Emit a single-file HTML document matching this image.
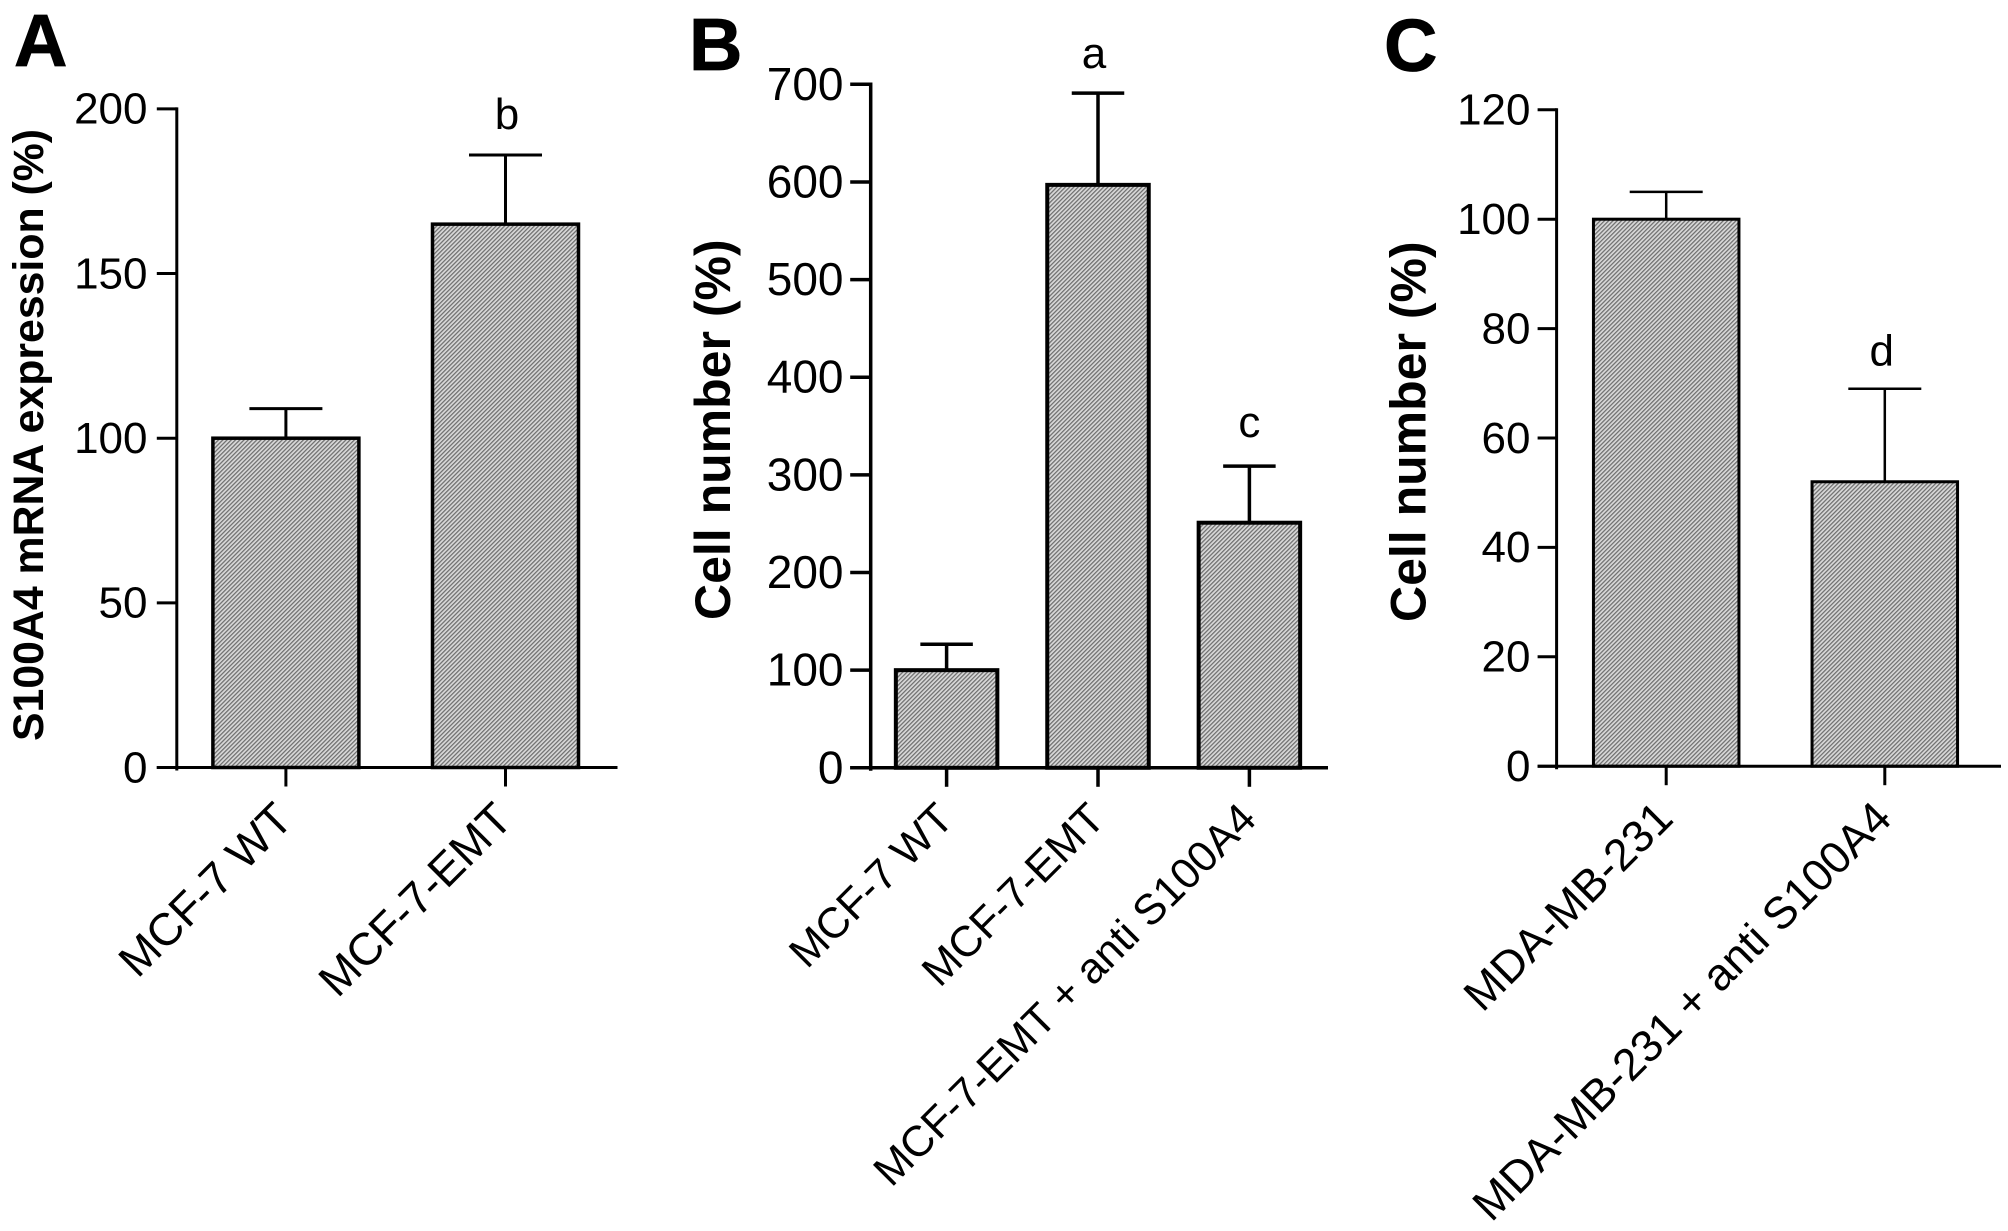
<!DOCTYPE html>
<html lang="en">
<head>
<meta charset="utf-8">
<title>S100A4 expression and cell number bar charts</title>
<style>
  html, body { margin: 0; padding: 0; background: #fff; }
  #figure { display: block; width: 2008px; height: 1231px; font-family: "Liberation Sans", Arial, sans-serif; }
  text { fill: #000; }
  .panel-letter { font-size: 74px; font-weight: bold; stroke: #000; stroke-width: 0.8px; }
  .y-title { font-weight: bold; }
</style>
</head>
<body>
<svg id="figure" xmlns="http://www.w3.org/2000/svg" width="2008" height="1231" viewBox="0 0 2008 1231">
  <defs>
    <pattern id="hatch" width="3" height="3" patternUnits="userSpaceOnUse" patternTransform="rotate(-45)">
      <rect width="3" height="3" fill="#d9d9d9"></rect>
      <rect width="3" height="1.25" fill="#6e6e6e"></rect>
    </pattern>
  </defs>
  <rect width="2008" height="1231" fill="#fff"></rect>

  <text class="panel-letter" x="14" y="66">A</text>
  <text class="panel-letter" x="689" y="70">B</text>
  <text class="panel-letter" x="1384" y="71">C</text>

  <text class="y-title" font-size="42.8" transform="translate(43 741) rotate(-90)">S100A4 mRNA expression (%)</text>
  <text class="y-title" font-size="50" transform="translate(730 620) rotate(-90)">Cell number (%)</text>
  <text class="y-title" font-size="50" transform="translate(1425.5 622) rotate(-90)">Cell number (%)</text>

  <g id="panel-a"></g>
  <g id="panel-b"></g>
  <g id="panel-c"></g>
</svg>

<script>
// Panel A data
var categoriesA = ["MCF-7 WT", "MCF-7-EMT"];
var valuesA = [100, 165];
var errorsA = [9, 21];
var notesA = ["", "b"];
var ticksA = [0, 50, 100, 150, 200];

// Panel B data
var categoriesB = ["MCF-7 WT", "MCF-7-EMT", "MCF-7-EMT + anti S100A4"];
var valuesB = [100, 597, 251];
var errorsB = [26.5, 94, 58];
var notesB = ["", "a", "c"];
var ticksB = [0, 100, 200, 300, 400, 500, 600, 700];

// Panel C data
var categoriesC = ["MDA-MB-231", "MDA-MB-231 + anti S100A4"];
var valuesC = [100, 52];
var errorsC = [5, 17];
var notesC = ["", "d"];
var ticksC = [0, 20, 40, 60, 80, 100, 120];

var SVG_NS = "http://www.w3.org/2000/svg";

function make(parent, tag, attrs) {
  var el = document.createElementNS(SVG_NS, tag);
  for (var k in attrs) { el.setAttribute(k, attrs[k]); }
  parent.appendChild(el);
  return el;
}

function drawPanel(cfg) {
  var root = document.getElementById(cfg.id);
  var yMax = cfg.ticks[cfg.ticks.length - 1];

  function yScale(v) { return cfg.y0 - (v / yMax) * (cfg.y0 - cfg.yTop); }
  function xScale(i) { return cfg.firstCenter + i * cfg.step; }

  // Bars first so axes overdraw their feet
  cfg.values.forEach(function (v, i) {
    var cx = xScale(i);
    var top = yScale(v);
    var errTop = yScale(v + cfg.errors[i]);

    var stem = make(root, "line", { x1: cx, x2: cx, y1: top, y2: errTop, stroke: "#000", "stroke-width": cfg.errWidth });
    
    

    var cap = make(root, "line", { x1: cx - cfg.capWidth / 2, x2: cx + cfg.capWidth / 2, y1: errTop, y2: errTop, stroke: "#000", "stroke-width": cfg.errWidth });
    
    

    var bar = make(root, "rect", { x: cx - cfg.barWidth / 2, y: top, width: cfg.barWidth, height: cfg.y0 - top, fill: "url(#hatch)", stroke: "#000", "stroke-width": cfg.barStroke });
    
    

    if (cfg.notes[i]) {
      var note = make(root, "text", { x: cx + cfg.noteDx[i], y: errTop - cfg.noteGap[i], "font-size": 44, "text-anchor": "middle" });
      note.textContent = cfg.notes[i];
      
      
    }

    var tick = make(root, "line", { x1: cx, x2: cx, y1: cfg.y0, y2: cfg.y0 + 19, stroke: "#000", "stroke-width": cfg.axisWidth });
    
    

    var lx = cx + cfg.labelDx;
    var ly = cfg.y0 + cfg.labelDy;
    var label = make(root, "text", { x: 0, y: 0, "font-size": cfg.labelFont, "text-anchor": "end", transform: "translate(" + lx + " " + ly + ") rotate(-45)" });
    label.textContent = cfg.categories[i];
    
    
  });

  // Y axis
  var yAxis = make(root, "line", { x1: cfg.axisX, x2: cfg.axisX, y1: yScale(yMax) - cfg.axisWidth / 2, y2: cfg.y0 + 3, stroke: "#000", "stroke-width": cfg.axisWidth });
  
  

  // X axis
  var xAxis = make(root, "line", { x1: cfg.axisX - cfg.tickLen, x2: cfg.axisEnd, y1: cfg.y0, y2: cfg.y0, stroke: "#000", "stroke-width": cfg.axisWidth });
  
  

  // Y ticks and labels
  cfg.ticks.forEach(function (t) {
    var y = yScale(t);
    var tl = make(root, "line", { x1: cfg.axisX - cfg.tickLen, x2: cfg.axisX, y1: y, y2: y, stroke: "#000", "stroke-width": cfg.axisWidth });
    
    

    var tt = make(root, "text", { x: cfg.tickTextRight, y: y + cfg.tickFont * 0.358 - 1, "font-size": cfg.tickFont, "text-anchor": "end" });
    tt.textContent = String(t);
    
    
  });
}

drawPanel({
  id: "panel-a", categories: categoriesA, values: valuesA, errors: errorsA, notes: notesA, ticks: ticksA,
  axisX: 176.8, axisEnd: 617.5, y0: 767.5, yTop: 108.9, tickLen: 20, tickTextRight: 147.5, tickFont: 44,
  firstCenter: 285.9, step: 219.6, barWidth: 146, capWidth: 73, barStroke: 3.5, errWidth: 3, axisWidth: 3,
  labelFont: 45.5, labelDx: 9, labelDy: 54.5, noteDx: [0, 1.5], noteGap: [0, 26]
});

drawPanel({
  id: "panel-b", categories: categoriesB, values: valuesB, errors: errorsB, notes: notesB, ticks: ticksB,
  axisX: 870.7, axisEnd: 1328, y0: 767.8, yTop: 84.3, tickLen: 20.5, tickTextRight: 843.5, tickFont: 46,
  firstCenter: 946.6, step: 151.4, barWidth: 101.5, capWidth: 52.5, barStroke: 4, errWidth: 3.5, axisWidth: 3.5,
  labelFont: 43, labelDx: 9, labelDy: 53.5, noteDx: [0, -4, 0], noteGap: [0, 25, 29]
});

drawPanel({
  id: "panel-c", categories: categoriesC, values: valuesC, errors: errorsC, notes: notesC, ticks: ticksC,
  axisX: 1556.6, axisEnd: 2001, y0: 766.2, yTop: 109.8, tickLen: 19, tickTextRight: 1530.5, tickFont: 44,
  firstCenter: 1666.2, step: 218.6, barWidth: 145.5, capWidth: 73, barStroke: 3, errWidth: 2.5, axisWidth: 3,
  labelFont: 45, labelDx: 9, labelDy: 54.5, noteDx: [0, -3], noteGap: [0, 23.5]
});
</script>
</body>
</html>
